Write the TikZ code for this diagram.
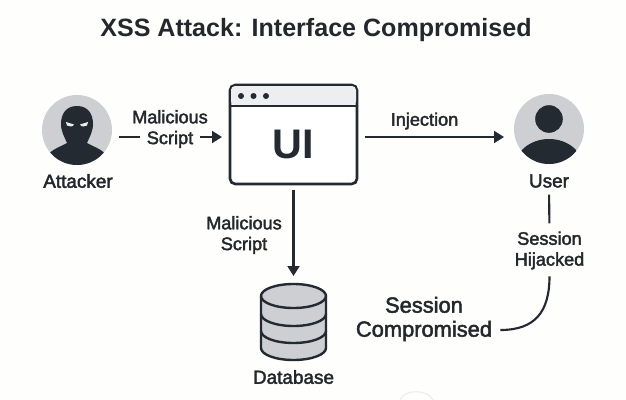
\documentclass[tikz,border=0pt]{standalone}
\usepackage{fontspec}
\setmainfont{Liberation Sans}
\newfontfamily\medfont[FakeBold=2.2]{Liberation Sans}
\usetikzlibrary{arrows.meta}
\definecolor{ink}{HTML}{232A32}
\definecolor{txt}{HTML}{24272B}
\definecolor{disc}{HTML}{CDCFD3}
\definecolor{bar}{HTML}{EDEEF0}
\definecolor{paper}{HTML}{FEFEFC}
\tikzset{
  conn/.style={draw=ink,line width=1.6pt},
  arr/.style={conn,-{Triangle[length=7.5pt,width=9pt]}},
  lbl/.style={text=txt,inner sep=0pt,align=center,font=\medfont\fontsize{13.6}{15.6}\selectfont},
  lblone/.style={text=txt,inner sep=0pt,align=center,font=\medfont\fontsize{14.2}{16}\selectfont},
  lblbig/.style={text=txt,inner sep=0pt,align=center,font=\medfont\fontsize{16.4}{18}\selectfont},
  avatar/.style={circle,fill=disc,minimum size=52.5pt,inner sep=0pt,outer sep=0pt},
}
\begin{document}
\begin{tikzpicture}[x=0.75pt,y=-0.75pt]
\useasboundingbox (0,0) rectangle (626,400);
\fill[paper] (0,0) rectangle (626,400);
\draw[black!7,line width=.8pt] (400,400) .. controls (404,389) and (428,389) .. (433,400);
% title
\node[text=txt,inner sep=0pt,font=\bfseries\fontsize{18.8}{22}\selectfont] (title) at (316,30) {XSS Attack: Interface Compromised};
% attacker
\node[avatar] (attacker) at (77,130) {};
\begin{scope}
\clip (attacker) circle (35);
\fill[ink] (77,106) .. controls (66,106) and (61,114) .. (61,124)
  .. controls (61,132) and (65,138) .. (67,143)
  .. controls (60,147) and (52,149) .. (47,156) -- (47,170) -- (107,170) -- (107,156)
  .. controls (102,149) and (94,147) .. (87,143)
  .. controls (89,138) and (93,132) .. (93,124)
  .. controls (93,114) and (88,106) .. (77,106) -- cycle;
\end{scope}
\fill[white!92!black] (66,122) -- (74,124.5) .. controls (73,127) and (69,127) .. (67,125.5) -- cycle;
\fill[white!92!black] (88,122) -- (80,124.5) .. controls (81,127) and (85,127) .. (87,125.5) -- cycle;
\node[lblone] (attackerlabel) at (78,181) {Attacker};
% user
\node[avatar] (user) at (549,129) {};
\begin{scope}
\clip (user) circle (35);
\fill[ink] (549,119) circle (13.8);
\fill[ink] (549,167) ellipse (34 and 28);
\end{scope}
\node[lblone] (userlabel) at (549,181) {User};
% UI window
\node[draw=ink,line width=2pt,rounded corners=4pt,minimum width=95.25pt,minimum height=74.25pt,inner sep=0pt,outer sep=0pt,fill=white] (ui) at (293.5,134.5) {};
\fill[bar,rounded corners=3pt] (231,86) rectangle (356,105);
\draw[ink,line width=2pt] (230,106) -- (357,106);
\foreach \dx in {241,253.5,266}{\fill[ink] (\dx,96) circle (3);}
\node[text=ink,inner sep=0pt,font=\bfseries\fontsize{31}{33}\selectfont] (uitext) at (293.5,144) {UI};
% database
\node[minimum width=49.5pt,minimum height=57pt,inner sep=0pt,outer sep=0pt] (db) at (293.5,322) {};
\begin{scope}[line width=1.8pt]
\filldraw[fill=disc,draw=ink] (261,296) -- (261,348) arc[start angle=180,end angle=0,x radius=32.5,y radius=12] -- (326,296) arc[start angle=0,end angle=-180,x radius=32.5,y radius=12] -- cycle;
\draw[ink] (261,296) arc[start angle=180,end angle=0,x radius=32.5,y radius=12];
\draw[ink] (261,314) arc[start angle=180,end angle=0,x radius=32.5,y radius=12];
\draw[ink] (261,331) arc[start angle=180,end angle=0,x radius=32.5,y radius=12];
\end{scope}
\node[lblone] (dblabel) at (293.5,377) {Database};
% labels
\node[lbl] (mal1) at (170,129) {Malicious\\Script};
\node[lbl] (inj) at (424.5,121) {Injection};
\node[lbl] (mal2) at (244,235) {Malicious\\Script};
\node[lbl] (hij) at (549.5,250.5) {Session\\Hijacked};
\node[lblbig] (comp) at (424,319) {Session\\Compromised};
% connectors
\coordinate (a2) at (140,137);
\coordinate (a3) at (200,137);
\coordinate (b0) at (400,137);
\draw[conn,shorten <=5.25pt] (attacker.east |- a2) -- (a2);
\draw[arr,shorten >=6pt] (a3) -- (ui.west |- a3);
\draw[arr,shorten <=6pt,shorten >=7.5pt] (ui.east |- b0) -- (user.west |- b0);
\draw[arr,shorten <=4.5pt,shorten >=6pt] (ui.south) -- (db.north);
\draw[conn,shorten <=5pt,shorten >=6pt] (userlabel.south) -- (hij.north);
\coordinate (e1) at ([yshift=-8.25pt,xshift=6pt]comp.east);
\draw[conn,shorten <=5pt] (hij.south) .. controls +(0,42) and +(35,0) .. (e1);
\end{tikzpicture}
\end{document}
